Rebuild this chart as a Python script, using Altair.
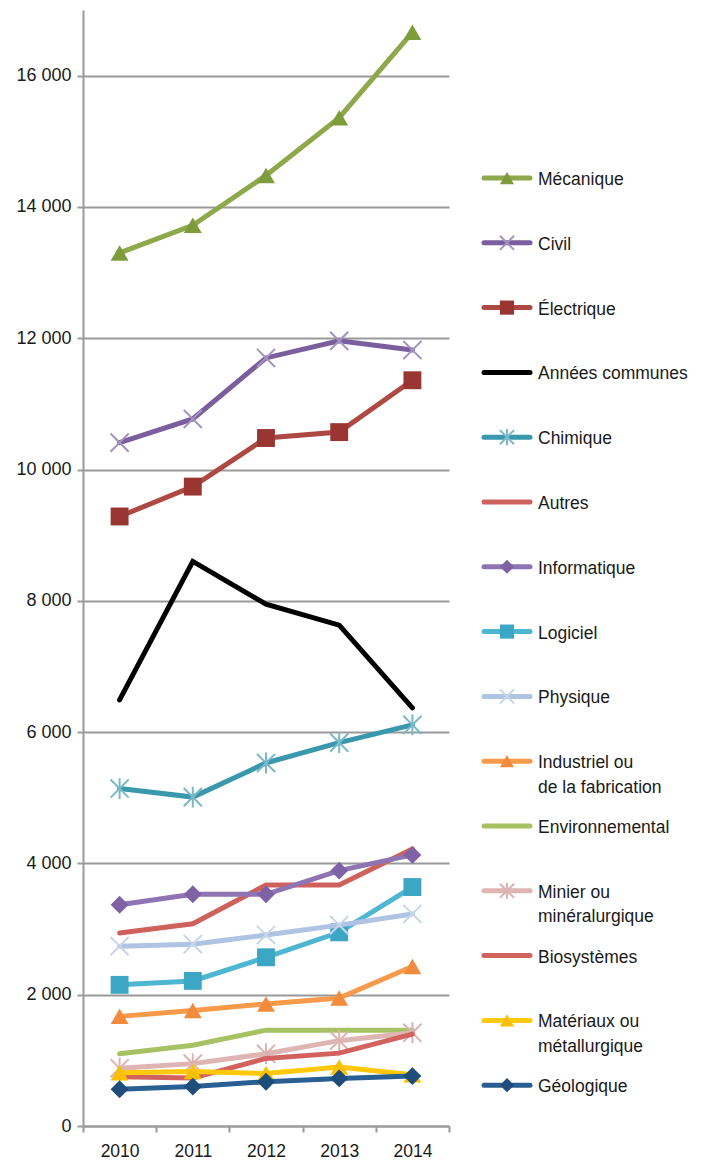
import altair as alt
import pandas as pd

# ---- data ----
years = ["2010", "2011", "2012", "2013", "2014"]

series_names = [
    "Mécanique", "Civil", "Électrique", "Années communes", "Chimique",
    "Autres", "Informatique", "Logiciel", "Physique",
    "Industriel ou de la fabrication", "Environnemental",
    "Minier ou minéralurgique", "Biosystèmes",
    "Matériaux ou métallurgique", "Géologique",
]
legend_labels = [
    "Mécanique", "Civil", "Électrique", "Années communes", "Chimique",
    "Autres", "Informatique", "Logiciel", "Physique",
    "Industriel ou\nde la fabrication", "Environnemental",
    "Minier ou\nminéralurgique", "Biosystèmes",
    "Matériaux ou\nmétallurgique", "Géologique",
]

mecanique = [13300, 13720, 14480, 15360, 16660]
civil = [10410, 10770, 11700, 11960, 11820]
electrique = [9285, 9740, 10480, 10570, 11360]
annees_communes = [6490, 8600, 7950, 7630, 6370]
chimique = [5140, 5010, 5530, 5840, 6110]
autres = [2940, 3080, 3670, 3670, 4220]
informatique = [3370, 3530, 3530, 3890, 4130]
logiciel = [2150, 2210, 2570, 2950, 3640]
physique = [2740, 2770, 2910, 3060, 3230]
industriel = [1670, 1760, 1860, 1950, 2430]
environnemental = [1100, 1230, 1460, 1460, 1460]
minier = [880, 950, 1100, 1300, 1420]
biosystemes = [750, 730, 1030, 1110, 1400]
materiaux = [810, 830, 800, 900, 780]
geologique = [560, 600, 675, 725, 760]

all_values = [mecanique, civil, electrique, annees_communes, chimique, autres,
              informatique, logiciel, physique, industriel, environnemental,
              minier, biosystemes, materiaux, geologique]

y_ticks = [0, 2000, 4000, 6000, 8000, 10000, 12000, 14000, 16000]

# ---- styles ----
X_PATH = "M-1,-1L1,1M-1,1L1,-1"
AST_PATH = "M-1,-1L1,1M-1,1L1,-1M0,-1.15L0,1.15"

line_colors = ["#8DA94B", "#7B5E9E", "#AE4842", "#000000", "#3A98AD",
               "#CF615C", "#8E74B3", "#4DB6D0", "#AEC4E2", "#F79A4A",
               "#A6C262", "#DFB5B4", "#D1625D", "#FFC80A", "#2A5F93"]
marker_colors = ["#7E9C3B", "#A493C0", "#9A3632", None, "#7BB8C8",
                 None, "#7E62A5", "#3BA7C4", "#C8D6EA", "#F28C3C",
                 None, "#DDB3B2", None, "#F8C000", "#1E4C7B"]
marker_shapes = ["triangle-up", X_PATH, "square", None, AST_PATH,
                 None, "diamond", "square", X_PATH, "triangle-up",
                 None, AST_PATH, None, "triangle-up", "diamond"]
marker_filled = [True, False, True, None, False,
                 None, True, True, False, True,
                 None, False, None, True, True]

FONT = "Liberation Sans, Arial, sans-serif"
GRID = "#9A9A9A"
TXT = "#1a1a1a"

# ---- main chart ----
x_enc = alt.X(
    "year:O", bandPosition=0.5,
    scale=alt.Scale(type="band", paddingInner=0, paddingOuter=0, domain=years),
    axis=alt.Axis(title=None, labelAngle=0, tickBand="extent", grid=False,
                  domainColor=GRID, domainWidth=2, tickColor=GRID, tickWidth=2,
                  tickSize=6, labelPadding=10, labelFontSize=17.5,
                  labelColor=TXT, labelFont=FONT),
)
y_enc = alt.Y(
    "value:Q",
    scale=alt.Scale(domain=[0, 17000], nice=False, zero=True),
    axis=alt.Axis(title=None, values=y_ticks,
                  labelExpr="replace(format(datum.value, ','), ',', ' ')",
                  grid=True, gridColor=GRID, gridWidth=2,
                  domainColor=GRID, domainWidth=2, tickColor=GRID,
                  tickWidth=2, tickSize=6, labelPadding=6, labelFontSize=18,
                  labelColor=TXT, labelFont=FONT,
                  minExtent=75, maxExtent=75),
)

layers = []
for i, name in enumerate(series_names):
    df = pd.DataFrame({"year": years, "value": all_values[i], "series": name})
    base = alt.Chart(df)
    layers.append(
        base.mark_line(strokeWidth=5, strokeCap="round", strokeJoin="miter",
                       color=line_colors[i]).encode(x=x_enc, y=y_enc)
    )
    if marker_shapes[i] is not None:
        if marker_filled[i]:
            pt = base.mark_point(shape=marker_shapes[i], filled=True,
                                 size=320, opacity=1,
                                 color=marker_colors[i])
        else:
            pt = base.mark_point(shape=marker_shapes[i], filled=False,
                                 size=330, opacity=1, strokeWidth=2,
                                 color=marker_colors[i])
        layers.append(pt.encode(x=x_enc, y=y_enc))

main = alt.layer(*layers).properties(width=366, height=1116)

# ---- legend (drawn as its own panel) ----
leg = pd.DataFrame({
    "name": series_names,
    "label": legend_labels,
    "idx": list(range(len(series_names))),
    "mshape": [s if s is not None else "" for s in marker_shapes],
    "mcolor": [c if c is not None else "" for c in marker_colors],
    "mfill": [("fill" if f else "stroke") if f is not None else "none"
              for f in marker_filled],
})
leg_y = alt.Y("idx:Q", axis=None,
              scale=alt.Scale(domain=[-2.593, 14.63], reverse=True,
                              nice=False, zero=False))
leg_base = alt.Chart(leg)
leg_line = leg_base.mark_rule(strokeWidth=5, strokeCap="round").encode(
    x=alt.value(34), x2=alt.value(80), y=leg_y,
    color=alt.Color("name:N", scale=alt.Scale(domain=series_names,
                                              range=line_colors), legend=None),
)
leg_fill = leg_base.transform_filter(alt.datum.mfill == "fill").mark_point(
    filled=True, size=200, opacity=1).encode(
    x=alt.value(57), y=leg_y,
    shape=alt.Shape("mshape:N", scale=None),
    color=alt.Color("mcolor:N", scale=None),
)
leg_stroke = leg_base.transform_filter(alt.datum.mfill == "stroke").mark_point(
    filled=False, size=200, opacity=1, strokeWidth=2).encode(
    x=alt.value(57), y=leg_y,
    shape=alt.Shape("mshape:N", scale=None),
    color=alt.Color("mcolor:N", scale=None),
)
leg_text = leg_base.mark_text(
    align="left", baseline="alphabetic", dy=7, lineBreak="\n",
    lineHeight=24.5, fontSize=17.5, font=FONT, color=TXT).encode(
    x=alt.value(88), y=leg_y, text="label:N",
)
legend = alt.layer(leg_line, leg_fill, leg_stroke, leg_text).properties(
    width=225, height=1116)

chart = (
    alt.hconcat(main, legend, spacing=0)
    .resolve_scale(x="independent", y="independent")
    .properties(padding={"left": 0, "top": 2, "right": 0, "bottom": 0})
    .configure_view(stroke=None)
)

chart.save("out.html", embed_options={"renderer": "svg", "actions": False})
